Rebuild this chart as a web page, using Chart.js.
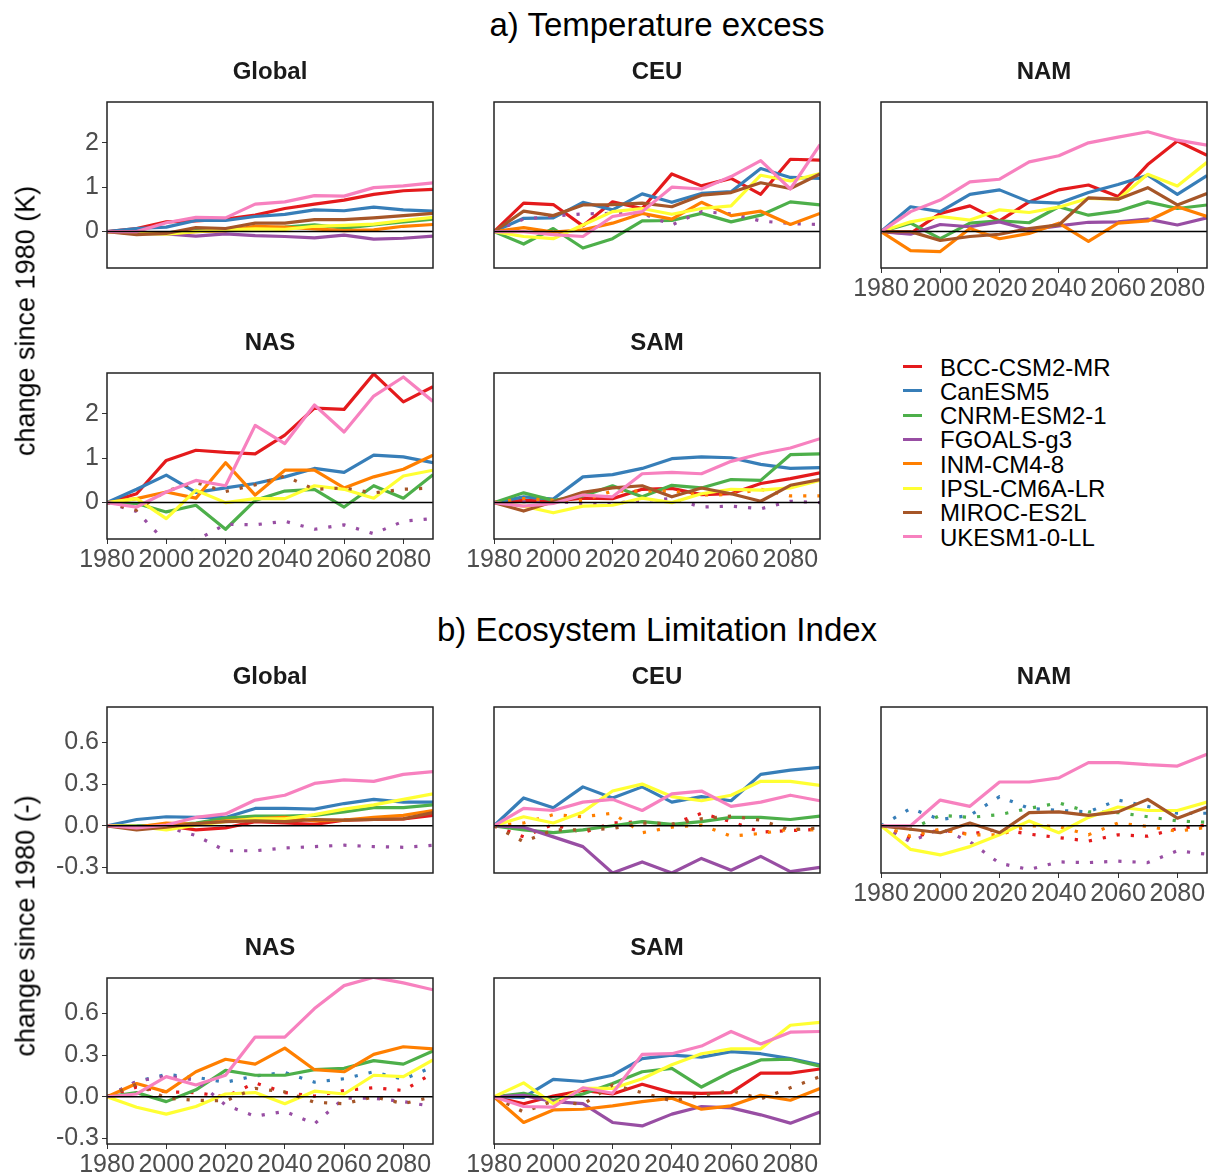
<!DOCTYPE html>
<html>
<head>
<meta charset="utf-8">
<script src="https://cdn.jsdelivr.net/npm/chart.js@4.4.0/dist/chart.umd.min.js"></script>
<style>
  body { margin: 0; background: #fff; width: 1214px; height: 1176px; position: relative; overflow: hidden;
         font-family: "Liberation Sans", Arial, sans-serif; }
  .t { position: absolute; white-space: nowrap; line-height: 1; }
  canvas { position: absolute; }
</style>
</head>
<body>
<script>
// ---- data ----
const years = [1980, 1990, 2000, 2010, 2020, 2030, 2040, 2050, 2060, 2070, 2080, 2090];
const xTicks = [1980, 2000, 2020, 2040, 2060, 2080];
const tasTicks = [0, 1, 2];
const tasTickLabels = ['0', '1', '2'];
const eliTicks = [-0.3, 0, 0.3, 0.6];
const eliTickLabels = ['-0.3', '0.0', '0.3', '0.6'];
const models = ['BCC-CSM2-MR', 'CanESM5', 'CNRM-ESM2-1', 'FGOALS-g3', 'INM-CM4-8', 'IPSL-CM6A-LR', 'MIROC-ES2L', 'UKESM1-0-LL'];
const modelColors = ['#E41A1C', '#377EB8', '#4DAF4A', '#984EA3', '#FF7F00', '#FFFF33', '#A65628', '#F781BF'];

// a) temperature excess, one row per model (same order as models)
const tasGlobal = [
  [0, 0.07, 0.22, 0.24, 0.28, 0.37, 0.52, 0.62, 0.71, 0.84, 0.92, 0.95],
  [0, 0.07, 0.10, 0.25, 0.25, 0.34, 0.39, 0.49, 0.47, 0.55, 0.49, 0.46],
  [0, -0.02, -0.03, 0.02, 0.03, 0.08, 0.10, 0.15, 0.08, 0.15, 0.22, 0.28],
  [0, -0.04, -0.05, -0.10, -0.05, -0.09, -0.11, -0.14, -0.08, -0.17, -0.15, -0.10],
  [0, -0.03, -0.04, 0, 0.02, 0.12, 0.10, 0.06, 0.02, 0.04, 0.12, 0.16],
  [0, -0.04, -0.06, 0, 0.04, 0.06, 0.05, 0.12, 0.14, 0.17, 0.25, 0.32],
  [0, -0.07, -0.04, 0.09, 0.07, 0.19, 0.19, 0.27, 0.27, 0.31, 0.36, 0.41],
  [0, 0, 0.20, 0.32, 0.31, 0.62, 0.67, 0.81, 0.80, 0.99, 1.03, 1.10]
];
const tasGlobalDotted = [];
const tasCEU = [
  [0, 0.64, 0.61, 0.13, 0.67, 0.52, 1.30, 1.03, 1.20, 0.84, 1.63, 1.61],
  [0, 0.30, 0.31, 0.66, 0.49, 0.85, 0.66, 0.86, 0.90, 1.42, 1.22, 1.20],
  [0, -0.28, 0.07, -0.37, -0.16, 0.24, 0.25, 0.41, 0.22, 0.37, 0.67, 0.60],
  [0, 0.28, 0.35, 0.40, 0.41, 0.41, 0.15, 0.45, 0.40, 0.24, 0.18, 0.16],
  [0, 0.09, -0.01, 0.04, 0.19, 0.41, 0.28, 0.66, 0.36, 0.46, 0.16, 0.41],
  [0, -0.11, -0.16, 0.15, 0.45, 0.52, 0.39, 0.52, 0.58, 1.27, 1.14, 1.31],
  [0, 0.46, 0.36, 0.60, 0.61, 0.64, 0.56, 0.82, 0.88, 1.10, 0.97, 1.30],
  [0, 0, -0.07, -0.11, 0.34, 0.45, 1.00, 0.96, 1.24, 1.60, 0.96, 1.96]
];
const tasCEUDotted = [3];
const tasNAM = [
  [0, -0.04, 0.41, 0.58, 0.24, 0.67, 0.94, 1.05, 0.79, 1.51, 2.04, 1.72],
  [0, 0.56, 0.45, 0.84, 0.94, 0.67, 0.64, 0.88, 1.06, 1.27, 0.84, 1.26],
  [0, 0.19, -0.16, 0.19, 0.24, 0.20, 0.56, 0.37, 0.46, 0.67, 0.52, 0.60],
  [0, -0.06, 0.16, 0.11, 0.22, 0.04, 0.13, 0.21, 0.22, 0.28, 0.15, 0.31],
  [0, -0.43, -0.45, 0.07, -0.16, -0.04, 0.19, -0.22, 0.19, 0.24, 0.56, 0.34],
  [0, 0.22, 0.34, 0.26, 0.49, 0.43, 0.55, 0.75, 0.73, 1.29, 1.03, 1.56],
  [0, 0, -0.20, -0.11, -0.06, 0.07, 0.15, 0.76, 0.73, 0.99, 0.60, 0.86],
  [0, 0.45, 0.71, 1.12, 1.18, 1.57, 1.71, 2.00, 2.13, 2.25, 2.06, 1.95]
];
const tasNAMDotted = [];
const tasNAS = [
  [0, 0.20, 0.95, 1.18, 1.13, 1.10, 1.52, 2.13, 2.10, 2.90, 2.27, 2.61],
  [0, 0.30, 0.62, 0.23, 0.33, 0.43, 0.58, 0.77, 0.68, 1.07, 1.03, 0.90],
  [0, -0.02, -0.21, -0.06, -0.60, 0.05, 0.26, 0.30, -0.10, 0.38, 0.10, 0.63],
  [0, -0.20, -0.90, -0.85, -0.49, -0.50, -0.42, -0.60, -0.50, -0.70, -0.42, -0.36],
  [0, 0.09, 0.24, 0.10, 0.90, 0.17, 0.73, 0.73, 0.33, 0.58, 0.75, 1.07],
  [0, 0.09, -0.36, 0.28, 0, 0.09, 0.09, 0.38, 0.30, 0.10, 0.60, 0.73],
  [0, -0.17, 0.26, 0.45, 0.25, 0.40, 0.60, 0.30, 0.33, 0.22, 0.30, 0.33],
  [0, -0.10, 0.24, 0.50, 0.38, 1.74, 1.33, 2.20, 1.59, 2.40, 2.83, 2.28]
];
const tasNASDotted = [3, 6];
const tasSAM = [
  [0, 0.05, 0.03, 0.10, 0.09, 0.30, 0.32, 0.18, 0.20, 0.43, 0.54, 0.67],
  [0, 0.13, 0.08, 0.58, 0.63, 0.77, 0.99, 1.03, 1.01, 0.86, 0.77, 0.79],
  [0, 0.22, 0.05, 0.15, 0.38, 0.13, 0.39, 0.33, 0.52, 0.50, 1.08, 1.10],
  [0, 0.02, 0.03, -0.02, -0.02, 0.05, 0.09, -0.10, -0.08, -0.14, 0.03, 0],
  [0, 0.09, 0.05, 0.05, 0.26, 0.26, 0.26, 0.17, 0.18, 0.30, 0.15, 0.15],
  [0, -0.08, -0.23, -0.08, -0.06, 0.10, 0, 0.20, 0.30, 0.28, 0.33, 0.50],
  [0, -0.19, 0.02, 0.23, 0.33, 0.38, 0.13, 0.33, 0.20, 0.03, 0.39, 0.52],
  [0, -0.08, -0.02, 0.17, 0.13, 0.65, 0.68, 0.65, 0.93, 1.10, 1.23, 1.44]
];
const tasSAMDotted = [3, 4];

// b) ecosystem limitation index
const eliGlobal = [
  [0, -0.005, 0, -0.03, -0.015, 0.03, 0.02, 0.01, 0.04, 0.045, 0.05, 0.075],
  [0, 0.045, 0.065, 0.06, 0.06, 0.125, 0.125, 0.12, 0.16, 0.19, 0.17, 0.17],
  [0, 0, 0.005, 0.02, 0.055, 0.07, 0.07, 0.075, 0.10, 0.13, 0.13, 0.15],
  [0, -0.01, -0.01, -0.07, -0.18, -0.18, -0.16, -0.15, -0.14, -0.15, -0.155, -0.14],
  [0, -0.01, 0.02, 0.01, 0.035, 0.05, 0.06, 0.035, 0.04, 0.06, 0.075, 0.11],
  [0, -0.005, -0.03, 0.005, 0.03, 0.05, 0.05, 0.08, 0.12, 0.15, 0.19, 0.23],
  [0, -0.03, -0.01, 0.015, 0.03, 0.035, 0.03, 0.045, 0.04, 0.045, 0.05, 0.095],
  [0, -0.015, 0.005, 0.06, 0.085, 0.185, 0.22, 0.305, 0.33, 0.32, 0.37, 0.39]
];
const eliGlobalDotted = [3];
const eliCEU = [
  [0, -0.08, 0.01, -0.05, 0.02, 0.03, 0.01, 0.09, 0.03, -0.045, -0.035, -0.025],
  [0, 0.20, 0.13, 0.28, 0.20, 0.28, 0.17, 0.21, 0.18, 0.37, 0.40, 0.42],
  [0, -0.03, -0.05, -0.03, 0, 0.03, 0.01, 0.03, 0.06, 0.06, 0.045, 0.07],
  [0, -0.01, -0.08, -0.15, -0.34, -0.26, -0.34, -0.235, -0.32, -0.22, -0.33, -0.30],
  [0, 0.02, 0.08, 0.065, 0.09, -0.05, -0.01, 0.005, -0.075, -0.055, -0.025, -0.03],
  [0, 0.065, 0.02, 0.10, 0.25, 0.30, 0.21, 0.18, 0.22, 0.32, 0.32, 0.29],
  [0, -0.115, -0.03, -0.03, -0.02, 0.02, 0.01, 0.05, 0.07, 0.04, -0.03, -0.015],
  [0, 0.125, 0.11, 0.17, 0.19, 0.11, 0.23, 0.25, 0.14, 0.17, 0.22, 0.18]
];
const eliCEUDotted = [0, 4, 6];
const eliNAM = [
  [0, -0.09, -0.03, -0.06, -0.025, -0.06, -0.085, -0.11, -0.065, -0.075, -0.02, 0.005],
  [0, 0.125, 0.045, 0.075, 0.21, 0.125, 0.11, 0.10, 0.185, 0.14, 0.09, 0.09],
  [0, -0.025, 0.075, 0.06, 0.08, 0.125, 0.165, 0.10, 0.095, 0.065, 0.035, 0.025],
  [0, -0.115, -0.02, -0.115, -0.27, -0.315, -0.26, -0.265, -0.255, -0.265, -0.18, -0.205],
  [0, -0.075, -0.025, -0.065, -0.065, 0, -0.005, -0.065, 0.02, -0.005, -0.04, -0.01],
  [0, -0.17, -0.21, -0.15, -0.065, 0.035, -0.05, 0.06, 0.135, 0.11, 0.11, 0.17],
  [0, -0.025, -0.05, 0.02, -0.05, 0.095, 0.10, 0.075, 0.10, 0.19, 0.055, 0.135],
  [0, 0, 0.185, 0.14, 0.315, 0.315, 0.345, 0.455, 0.455, 0.44, 0.43, 0.515]
];
const eliNAMDotted = [0, 1, 2, 3, 4];
const eliNAS = [
  [0, 0.07, 0.035, 0.03, 0, 0.10, 0.03, 0.005, 0.045, 0.065, 0.045, 0.17],
  [0, 0.11, 0.16, 0.14, 0.105, 0.15, 0.175, 0.105, 0.13, 0.18, 0.125, 0.215],
  [0, 0.03, -0.035, 0.05, 0.19, 0.155, 0.155, 0.195, 0.205, 0.26, 0.235, 0.33],
  [0, 0.11, 0.15, 0.12, -0.06, -0.14, -0.105, -0.195, -0.01, -0.01, -0.035, -0.07],
  [0, 0.095, 0.035, 0.18, 0.27, 0.235, 0.35, 0.195, 0.18, 0.305, 0.36, 0.345],
  [0, -0.075, -0.125, -0.07, 0.02, 0.03, -0.05, 0.04, 0.02, 0.155, 0.145, 0.265],
  [0, 0.09, -0.01, -0.025, -0.03, 0.06, 0.035, -0.04, -0.05, 0, -0.05, 0],
  [0, 0.02, 0.145, 0.085, 0.155, 0.43, 0.43, 0.635, 0.80, 0.86, 0.82, 0.77]
];
const eliNASDotted = [0, 1, 3, 6];
const eliSAM = [
  [0, -0.05, 0.005, 0.045, 0.02, 0.09, 0.03, 0.025, 0.03, 0.17, 0.17, 0.20],
  [0, -0.005, 0.125, 0.11, 0.155, 0.275, 0.30, 0.285, 0.325, 0.31, 0.275, 0.23],
  [0, 0.025, -0.025, 0.02, 0.095, 0.18, 0.205, 0.07, 0.18, 0.265, 0.27, 0.22],
  [0, 0.01, -0.035, -0.05, -0.185, -0.21, -0.125, -0.07, -0.08, -0.13, -0.19, -0.11],
  [0, -0.185, -0.095, -0.09, -0.065, -0.035, -0.01, -0.09, -0.065, 0.01, -0.025, 0.06],
  [0, 0.10, -0.05, 0.06, 0.06, 0.13, 0.23, 0.31, 0.345, 0.345, 0.515, 0.535],
  [0, -0.11, -0.03, -0.055, 0.085, 0.03, -0.03, 0.01, 0.045, -0.015, 0.065, 0.145],
  [0, -0.07, -0.075, 0.065, 0.025, 0.305, 0.31, 0.365, 0.47, 0.38, 0.465, 0.47]
];
const eliSAMDotted = [6];

// ---- layout ----
const FONT = '"Liberation Sans", Arial, sans-serif';
const colX = [107, 494, 881];
const rowY = [102, 373, 707, 978];
const PW = 326, PH = 166;
const padL = 80, padT = 26, padR = 14, padB = 50;

const tasRange = [-0.82, 2.92];
const eliRange = [-0.34, 0.855];

const panels = [
  { title: 'Global', s: tasGlobal, d: tasGlobalDotted, c: 0, r: 0, rng: tasRange, yt: tasTicks, yl: tasTickLabels, sx: false, sy: true },
  { title: 'CEU',    s: tasCEU,    d: tasCEUDotted,    c: 1, r: 0, rng: tasRange, yt: tasTicks, yl: tasTickLabels, sx: false, sy: false },
  { title: 'NAM',    s: tasNAM,    d: tasNAMDotted,    c: 2, r: 0, rng: tasRange, yt: tasTicks, yl: tasTickLabels, sx: true,  sy: false },
  { title: 'NAS',    s: tasNAS,    d: tasNASDotted,    c: 0, r: 1, rng: tasRange, yt: tasTicks, yl: tasTickLabels, sx: true,  sy: true },
  { title: 'SAM',    s: tasSAM,    d: tasSAMDotted,    c: 1, r: 1, rng: tasRange, yt: tasTicks, yl: tasTickLabels, sx: true,  sy: false },
  { title: 'Global', s: eliGlobal, d: eliGlobalDotted, c: 0, r: 2, rng: eliRange, yt: eliTicks, yl: eliTickLabels, sx: false, sy: true },
  { title: 'CEU',    s: eliCEU,    d: eliCEUDotted,    c: 1, r: 2, rng: eliRange, yt: eliTicks, yl: eliTickLabels, sx: false, sy: false },
  { title: 'NAM',    s: eliNAM,    d: eliNAMDotted,    c: 2, r: 2, rng: eliRange, yt: eliTicks, yl: eliTickLabels, sx: true,  sy: false },
  { title: 'NAS',    s: eliNAS,    d: eliNASDotted,    c: 0, r: 3, rng: eliRange, yt: eliTicks, yl: eliTickLabels, sx: true,  sy: true },
  { title: 'SAM',    s: eliSAM,    d: eliSAMDotted,    c: 1, r: 3, rng: eliRange, yt: eliTicks, yl: eliTickLabels, sx: true,  sy: false }
];

function text(str, x, y, css) {
  const el = document.createElement('div');
  el.className = 't';
  el.textContent = str;
  el.style.cssText += css;
  el.style.left = x + 'px';
  el.style.top = y + 'px';
  document.body.appendChild(el);
  return el;
}

// box + zero line drawn on top of the series
const framePlugin = {
  id: 'frame',
  afterDatasetsDraw(chart) {
    const { ctx, chartArea: a, scales: { y } } = chart;
    ctx.save();
    const y0 = y.getPixelForValue(0);
    ctx.strokeStyle = '#000';
    ctx.lineWidth = 1.5;
    ctx.beginPath();
    ctx.moveTo(a.left, y0);
    ctx.lineTo(a.right, y0);
    ctx.stroke();
    ctx.strokeStyle = '#222';
    ctx.strokeRect(a.left, a.top, a.right - a.left, a.bottom - a.top);
    ctx.restore();
  }
};

function drawPanel(p) {
  const x = colX[p.c], y = rowY[p.r];
  const cv = document.createElement('canvas');
  cv.width = PW + padL + padR;
  cv.height = PH + padT + padB;
  cv.style.left = (x - padL) + 'px';
  cv.style.top = (y - padT) + 'px';
  document.body.appendChild(cv);

  const datasets = p.s.map((vals, i) => ({
    label: models[i],
    data: vals.map((v, k) => ({ x: years[k], y: v })),
    borderColor: modelColors[i],
    borderWidth: 3.2,
    borderDash: p.d.includes(i) ? [3.2, 11] : [],
    borderCapStyle: 'butt',
    borderJoinStyle: 'round',
    pointRadius: 0,
    tension: 0,
    fill: false,
    order: models.length - i
  }));

  new Chart(cv, {
    type: 'line',
    data: { datasets },
    plugins: [framePlugin],
    options: {
      responsive: false,
      animation: false,
      events: [],
      layout: { padding: { top: padT, right: padR, left: 0, bottom: 0 } },
      plugins: { legend: { display: false }, tooltip: { enabled: false } },
      scales: {
        x: {
          type: 'linear', min: 1980, max: 2090,
          afterFit: s => { s.height = padB; },
          afterBuildTicks: s => { s.ticks = xTicks.map(v => ({ value: v })); },
          ticks: { display: p.sx, color: '#4D4D4D', font: { size: 25, family: FONT }, padding: 1,
                   maxRotation: 0, autoSkip: false, callback: v => String(v) },
          grid: { drawOnChartArea: false, drawTicks: p.sx, tickLength: 5, color: '#333' },
          border: { display: false }
        },
        y: {
          type: 'linear', min: p.rng[0], max: p.rng[1],
          afterFit: s => { s.width = padL; },
          afterBuildTicks: s => { s.ticks = p.yt.map(v => ({ value: v })); },
          ticks: { display: p.sy, color: '#4D4D4D', font: { size: 25, family: FONT }, padding: 3,
                   autoSkip: false, callback: (v, i) => p.yl[i] },
          grid: { drawOnChartArea: false, drawTicks: p.sy, tickLength: 5, color: '#333' },
          border: { display: false }
        }
      }
    }
  });

  text(p.title, x + PW / 2, y - 43, 'font-size:24px;font-weight:bold;color:#1a1a1a;transform:translateX(-50%);');
}

panels.forEach(drawPanel);

// section titles
text('a) Temperature excess', 657, 8, 'font-size:33px;color:#000;transform:translateX(-50%);');
text('b) Ecosystem Limitation Index', 657, 613, 'font-size:33px;color:#000;transform:translateX(-50%);');

// y axis titles
text('change since 1980 (K)', 26, 321, 'font-size:27px;color:#000;transform:translate(-50%,-50%) rotate(-90deg);');
text('change since 1980 (-)', 26, 926, 'font-size:27px;color:#000;transform:translate(-50%,-50%) rotate(-90deg);');

// legend
models.forEach((m, i) => {
  const key = document.createElement('div');
  key.style.cssText = 'position:absolute;left:903px;width:19px;height:3px;background:' + modelColors[i] + ';top:' + (365 + 24.3 * i) + 'px;';
  document.body.appendChild(key);
  text(m, 940, 355.5 + 24.3 * i, 'font-size:24px;color:#000;');
});
</script>
</body>
</html>
